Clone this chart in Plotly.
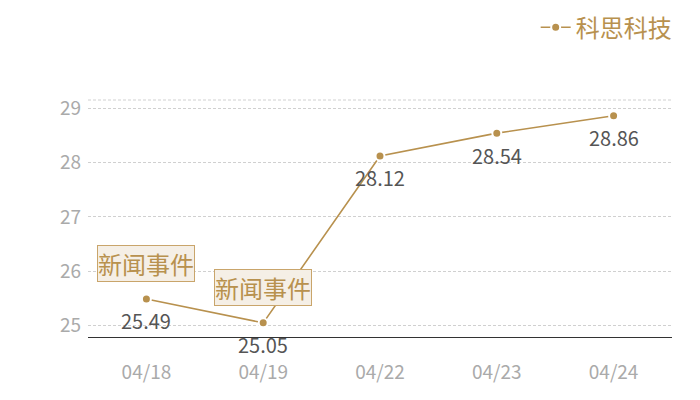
import plotly.graph_objects as go

# chart data
dates = ["04/18", "04/19", "04/22", "04/23", "04/24"]
prices = [25.49, 25.05, 28.12, 28.54, 28.86]
series_name = "科思科技"
event_dates = ["04/18", "04/19"]
event_label = "新闻事件"

gold = "#b8914e"
font_family = "Noto Sans CJK SC, Noto Sans, sans-serif"

fig = go.Figure()

fig.add_trace(go.Scatter(
    x=dates,
    y=prices,
    name=series_name,
    mode="lines+markers",
    line=dict(color=gold, width=1.6),
    marker=dict(size=9, color=gold, line=dict(width=2, color="white")),
    cliponaxis=False,
))

# value labels under each point
for d, v in zip(dates, prices):
    fig.add_annotation(
        x=d, y=v, text=f"{v:.2f}", showarrow=False,
        yshift=-22, yanchor="middle",
        font=dict(size=20, color="#555555", family=font_family),
    )

# news event boxes sit above their points
for d in event_dates:
    fig.add_annotation(
        x=d, y=prices[dates.index(d)],
        text=event_label,
        showarrow=False,
        yshift=35, yanchor="middle",
        font=dict(size=24, color=gold, family=font_family),
        bgcolor="#f5efe6",
        bordercolor="#c9a56b",
        borderwidth=1,
        borderpad=0,
    )

# dashed line along the top of the plot area
fig.add_shape(type="line", xref="paper", yref="paper", x0=0, x1=1, y0=1, y1=1,
              line=dict(color="#d0d0d0", width=1, dash="3px,2px"))

fig.update_layout(
    width=700,
    height=400,
    margin=dict(l=80, r=36, t=92, b=71, autoexpand=False),
    plot_bgcolor="white",
    paper_bgcolor="white",
    font=dict(family=font_family),
    showlegend=True,
    legend=dict(
        orientation="h",
        x=1.008, xanchor="right",
        y=1.40, yanchor="top",
        font=dict(size=24, color=gold, family=font_family),
        itemwidth=30,
    ),
    xaxis=dict(
        type="category",
        range=[-0.5, 4.5],
        showgrid=False,
        showline=True,
        linecolor="#333333",
        linewidth=1,
        ticks="",
        tickfont=dict(size=19, color="#aaaaaa"),
        ticklabelstandoff=18,
        automargin=False,
    ),
    yaxis=dict(
        range=[24.79, 29.15],
        tickvals=[25, 26, 27, 28, 29],
        showgrid=True,
        gridcolor="#d0d0d0",
        griddash="3px,2px",
        gridwidth=1,
        zeroline=False,
        showline=False,
        ticks="",
        tickfont=dict(size=19, color="#aaaaaa"),
        ticklabelstandoff=6,
        automargin=False,
    ),
)

fig.write_html("out.html")
